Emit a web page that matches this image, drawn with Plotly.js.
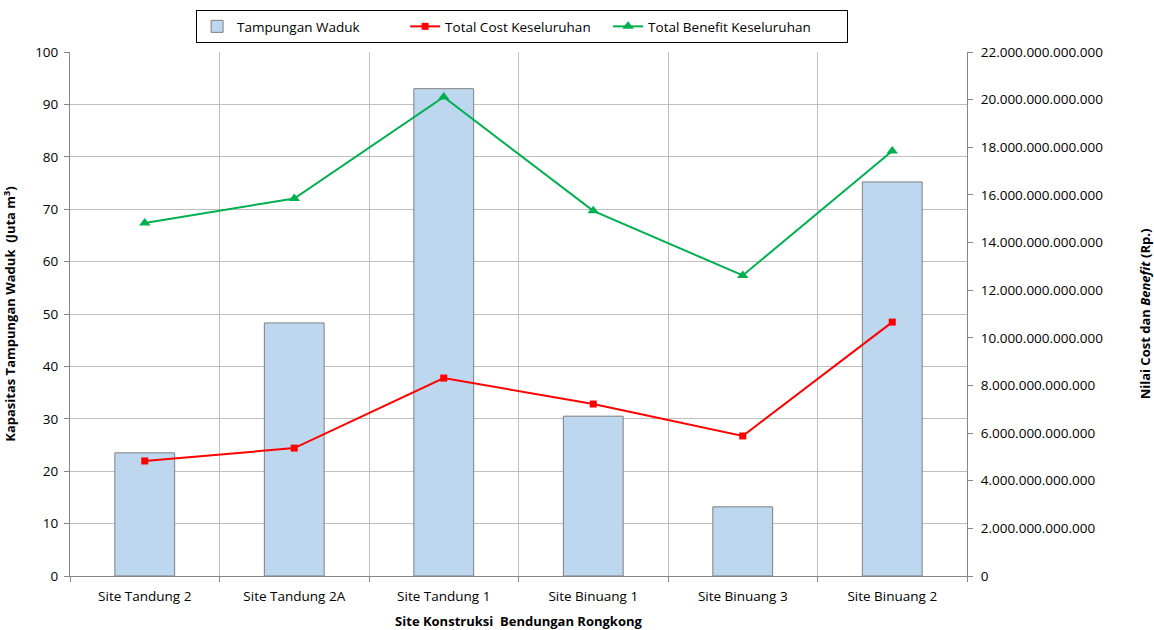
<!DOCTYPE html>
<html><head><meta charset="utf-8">
<script src="https://cdn.plot.ly/plotly-3.0.1.min.js"></script>
<style>body{margin:0;background:#fff}#c{width:1154px;height:630px}</style>
</head><body><div id="c"></div>
<script>
const sites = ["Site Tandung 2","Site Tandung 2A","Site Tandung 1","Site Binuang 1","Site Binuang 3","Site Binuang 2"];
const tampungan = [23.5, 48.3, 93.0, 30.5, 13.2, 75.2];
const totalCost = [4.83e12, 5.37e12, 8.31e12, 7.22e12, 5.88e12, 10.66e12];
const totalBenefit = [14.82e12, 15.85e12, 20.11e12, 15.33e12, 12.62e12, 17.84e12];

const F = "Open Sans, Noto Sans, sans-serif";
const traces = [
  {type:"bar", x:sites, y:tampungan, name:"Tampungan Waduk", width:0.4, legendwidth:163,
   marker:{color:"#bdd7ee", line:{color:"#7f7f7f", width:1}}, yaxis:"y"},
  {type:"scatter", mode:"lines+markers", x:sites, y:totalCost, name:"Total Cost Keseluruhan", legendwidth:158,
   line:{color:"#ff0000", width:2}, marker:{symbol:"square", size:7, color:"#ff0000"}, yaxis:"y2"},
  {type:"scatter", mode:"lines+markers", x:sites, y:totalBenefit, name:"Total Benefit Keseluruhan", legendwidth:194,
   line:{color:"#00b050", width:2}, marker:{symbol:"triangle-up", size:10, color:"#00b050"}, yaxis:"y2"}
];
const layout = {
  width:1154, height:630, paper_bgcolor:"#fff", plot_bgcolor:"#fff",
  margin:{l:70, r:187, t:52, b:54},
  separators:",.",
  font:{family:F, size:13, color:"#000"},
  showlegend:true,
  legend:{orientation:"h", x:0.504, xanchor:"center", xref:"paper",
    y:0.984, yanchor:"top", yref:"container",
    bordercolor:"#000", borderwidth:1, font:{family:F, size:13.5}, traceorder:"normal"},
  xaxis:{type:"category", tickson:"boundaries", showgrid:true, gridcolor:"#bfbfbf",
    showline:true, linecolor:"#868686", ticks:"outside", ticklen:5, tickcolor:"#868686",
    tickfont:{family:F, size:13.5}, automargin:false, ticklabelstandoff:8,
    title:{text:"<b>Site Konstruksi  Bendungan Rongkong</b>", font:{family:F, size:13}, standoff:12}},
  yaxis:{range:[0,100], dtick:10, showgrid:true, gridcolor:"#bfbfbf", showline:true,
    linecolor:"#868686", ticks:"outside", ticklen:5, tickcolor:"#868686", zeroline:false,
    tickfont:{family:F, size:13.5}, automargin:false, ticklabelstandoff:3,
    title:{text:"<b>Kapasitas Tampungan Waduk  (Juta m<sup>3</sup>)</b>", font:{family:F, size:13}, standoff:16}},
  yaxis2:{overlaying:"y", side:"right", range:[0,22e12], dtick:2e12, tickformat:",.0f",
    showgrid:false, showline:true, linecolor:"#868686", ticks:"outside", ticklen:5,
    tickcolor:"#868686", zeroline:false, tickfont:{family:F, size:13.5}, automargin:false,
    ticklabelstandoff:5,
    title:{text:"<b>Nilai Cost dan <i>Benefit</i> (Rp.)</b>", font:{family:F, size:13}, standoff:40}}
};
Plotly.newPlot("c", traces, layout, {displayModeBar:false, staticPlot:true});
</script></body></html>
